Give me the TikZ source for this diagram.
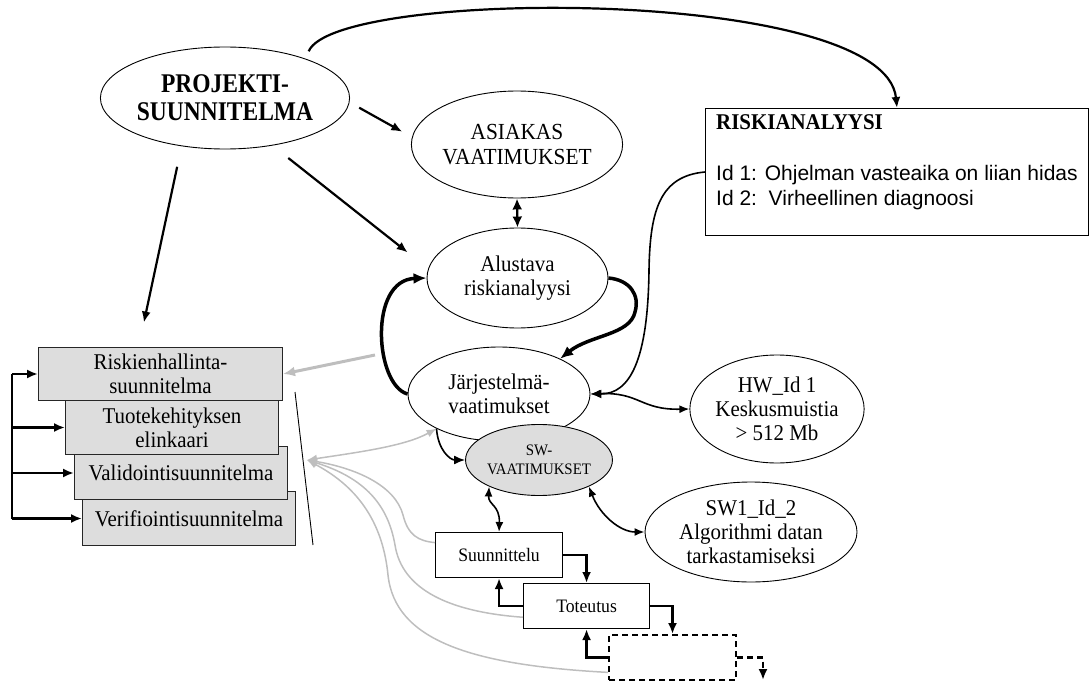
\documentclass[tikz,border=0pt]{standalone}
\usepackage{fontspec}
\setmainfont[FakeStretch=0.93]{Liberation Serif}
\newfontfamily\arialfont{Liberation Sans}
\newfontfamily\titlefont[FakeStretch=0.87]{Liberation Serif}
\usetikzlibrary{shapes.geometric,arrows.meta,calc}
\definecolor{boxgray}{RGB}{221,221,221}
\definecolor{linegray}{RGB}{190,190,190}
\begin{document}
\begin{tikzpicture}[x=1pt,y=-1pt,
  oval/.style={ellipse,draw,line width=0.9pt,fill=white,inner sep=0pt,align=center,
    font=\fontsize{22.5}{24}\selectfont},
  plan/.style={draw=black!85,line width=1pt,fill=boxgray,align=center,anchor=north west,
    inner sep=0pt,font=\fontsize{22.5}{24}\selectfont},
  stage/.style={draw,line width=1.1pt,fill=white,anchor=north west,inner sep=0pt,
    font=\fontsize{19}{21}\selectfont},
  arr/.style={-{Latex[length=11pt,width=9pt]}},
  biarr/.style={{Latex[length=10pt,width=8pt]}-{Latex[length=10pt,width=8pt]}},
  bold/.style={line width=2.2pt},
  link/.style={line width=1.6pt},
  gline/.style={line width=1.5pt,draw=linegray},
  gtip/.style={{Latex[length=10pt,width=8pt]}-},
]
\useasboundingbox (0,0) rectangle (1090,682);

% ---- plan documents (back to front) ----
\node[plan,minimum width=213,minimum height=54] (ve) at (82,491) {Verifiointisuunnitelma};
\node[plan,minimum width=213,minimum height=53] (va) at (74,446) {Validointisuunnitelma};
\node[plan,minimum width=213,minimum height=54] (tk) at (65,400) {Tuotekehityksen\\elinkaari};
\node[plan,minimum width=244,minimum height=53] (rh) at (38,347) {Riskienhallinta-\\suunnitelma};

% ---- ellipses ----
\node[oval,minimum width=246,minimum height=102,font=\titlefont\fontsize{27}{28}\selectfont\bfseries]
  (proj) at (225,98) {PROJEKTI-\\SUUNNITELMA};
\node[oval,minimum width=199,minimum height=107,font=\fontsize{23}{25}\selectfont]
  (asi) at (517,144.5) {ASIAKAS\\VAATIMUKSET};
\node[oval,minimum width=181,minimum height=100] (alu) at (517.5,278) {Alustava\\riskianalyysi};
\node[oval,minimum width=182,minimum height=94] (jar) at (499,394) {Järjestelmä-\\vaatimukset};
\node[oval,minimum width=142,minimum height=71,fill=boxgray,font=\fontsize{16}{19}\selectfont]
  (sw) at (539,460) {SW-\\VAATIMUKSET};
\node[oval,minimum width=162,minimum height=108] (hw) at (777,409) {HW\_Id 1\\Keskusmuistia\\> 512 Mb};
\node[oval,minimum width=212,minimum height=100] (sw1) at (751,532)
  {SW1\_Id\_2\\Algorithmi datan\\tarkastamiseksi};

% ---- risk analysis box ----
\node[draw,line width=1pt,anchor=north west,minimum width=383,minimum height=127,inner sep=0pt]
  (risk) at (705,108) {};
\node[anchor=base west,inner sep=0pt,font=\fontsize{22.5}{24}\selectfont\bfseries]
  (rtitle) at (716,130) {RISKIANALYYSI};
\node[anchor=base west,inner sep=0pt,font=\arialfont\fontsize{21}{24}\selectfont]
  (rid1) at (716,180) {Id 1: Ohjelman vasteaika on liian hidas};
\node[anchor=base west,inner sep=0pt,font=\arialfont\fontsize{21}{24}\selectfont]
  (rid2) at (716,205) {Id 2:\ \ Virheellinen diagnoosi};

% ---- development stages ----
\node[stage,minimum width=127,minimum height=45] (suu) at (435,532) {Suunnittelu};
\node[stage,minimum width=126,minimum height=45] (tot) at (523,583) {Toteutus};
\node[stage,minimum width=127,minimum height=45,dash pattern=on 6pt off 4pt,line width=2pt]
  (dsh) at (608,634) {};

% ---- helper points ----
\coordinate (bx) at (12,0);
\coordinate (ta) at (295,392);
\coordinate (tb) at (313,545);
\coordinate (vp) at (307,460);
\coordinate (gs) at (375,355);
\coordinate (dend) at (763,680);

% ---- grey feedback lines ----
\draw[line width=3pt,color=linegray,-{Latex[length=12pt,width=10pt]}] (gs) -- (rh.east);
\draw[gline,color=linegray,{Latex[length=10pt,width=8pt]}-{Latex[length=10pt,width=8pt]}]
  (vp) .. controls (360,452) and (405,446) .. (jar.209);
\draw[gline,color=linegray,gtip] (vp) .. controls (355,468) and (395,485) .. (403,515)
  .. controls (408,535) and (418,541) .. (suu.169);
\draw[gline,color=linegray,gtip] (vp) .. controls (365,478) and (388,505) .. (395,545)
  .. controls (402,590) and (450,612) .. (tot.190);
\draw[gline,color=linegray,gtip] (vp) .. controls (360,488) and (383,525) .. (388,575)
  .. controls (395,640) and (470,665) .. (dsh.193);

% ---- thin divider ----
\draw[line width=0.9pt] (ta) -- (tb);

% ---- bracket to plan documents ----
\draw[bold] (rh.west -| bx) -- (ve.west -| bx);
\foreach \b in {rh,tk,va,ve} \draw[bold,arr] (\b.west -| bx) -- (\b.west);

% ---- project plan arrows ----
\draw[bold,arr,shorten <=11pt,shorten >=11pt] (proj.-2.3) -- (asi.176.2);
\draw[bold,arr,shorten <=20pt,shorten >=26pt] (proj.-45.3) -- (alu.174.2);
\draw[bold,arr,shorten <=21pt,shorten >=25pt] (proj.228.7) -- (rh.129);
\draw[bold,arr,shorten <=8pt] (proj.26) .. controls (335,-12) and (885,-14) .. (risk.north);

% ---- requirement links ----
\draw[bold,{Latex[length=11pt,width=10pt]}-{Latex[length=11pt,width=10pt]}] (asi.south) -- (alu.north);
\draw[line width=3.5pt,-{Latex[length=13pt,width=11pt]}] (alu.east) .. controls (630,280) and (640,295) .. (635,312)
  .. controls (630,335) and (590,335) .. (jar.30);
\draw[line width=3.5pt,-{Latex[length=13pt,width=11pt]}] (jar.west) .. controls (375,385) and (368,280) .. (alu.west);
\draw[link,arr] (risk.west) .. controls (660,176) and (650,210) .. (649,270)
  .. controls (648,360) and (630,394) .. (jar.east);
\draw[link,arr] (jar.209) .. controls (438,450) and (450,460) .. (sw.west);
\draw[link,biarr] (jar.east) .. controls (640,392) and (640,410) .. (hw.west);
\draw[link,biarr] (sw.208) .. controls (488,505) and (500,505) .. (suu.north);
\draw[link,biarr] (sw.-28) .. controls (600,515) and (620,532) .. (sw1.west);

% ---- stage iteration ----
\draw[bold,arr] (suu.east) -| (tot.north);
\draw[bold,arr] (tot.west) -| (suu.south);
\draw[bold,arr] (tot.east) -| (dsh.north);
\draw[bold,arr] (dsh.west) -| (tot.south);
\draw[bold,arr,dash pattern=on 6pt off 4pt] (dsh.east) -| (dend);
\end{tikzpicture}
\end{document}
